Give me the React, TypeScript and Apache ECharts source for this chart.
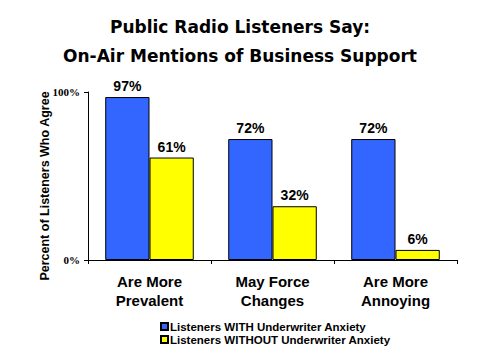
import React, { useEffect, useRef } from "react";
import * as echarts from "echarts";

const categories = ["Are More\nPrevalent", "May Force\nChanges", "Are More\nAnnoying"];
const withAnxiety = [97, 72, 72];
const withoutAnxiety = [61, 32, 6];
const seriesNames = ["Listeners WITH Underwriter Anxiety", "Listeners WITHOUT Underwriter Anxiety"];
const titleLines = ["Public Radio Listeners Say:", "On-Air Mentions of Business Support"];
const yAxisTitle = "Percent of Listeners Who Agree";

const SANS = "'Liberation Sans', Arial, Helvetica, sans-serif";
const WIDE = "'DejaVu Sans', 'Liberation Sans', Arial, sans-serif";
const SERIF = "'Liberation Serif', 'Times New Roman', serif";

export default function App() {
  const ref = useRef<HTMLDivElement>(null);
  useEffect(() => {
    if (!ref.current) return;
    const chart = echarts.init(ref.current, null, { renderer: "svg" });
    const label = {
      show: true,
      position: "top" as const,
      distance: 4,
      formatter: "{c}%",
      fontFamily: SANS,
      fontWeight: "bold" as const,
      fontSize: 14,
      color: "#000",
    };
    chart.setOption({
      animation: false,
      backgroundColor: "#fff",
      title: {
        text: titleLines.join("\n"),
        left: "center",
        top: 7,
        textStyle: {
          fontFamily: WIDE,
          fontWeight: "bold",
          fontSize: 17,
          lineHeight: 29,
          color: "#000",
        },
      },
      graphic: [
        {
          type: "text",
          x: 45,
          y: 186,
          rotation: Math.PI / 2,
          style: {
            text: yAxisTitle,
            fontFamily: SANS,
            fontWeight: "bold",
            fontSize: 12.5,
            fill: "#000",
            textAlign: "center",
            textVerticalAlign: "middle",
          },
        },
      ],
      legend: {
        orient: "vertical",
        left: 160,
        top: 320,
        padding: 0,
        itemWidth: 7,
        itemHeight: 7,
        itemGap: 0,
        icon: "rect",
        data: seriesNames,
        textStyle: {
          fontFamily: SANS,
          fontWeight: "bold",
          fontSize: 11.5,
          lineHeight: 13,
          color: "#000",
          padding: [0, 0, 0, -3],
        },
      },
      grid: { left: 88, right: 23, top: 92, bottom: 100, containLabel: false },
      xAxis: {
        type: "category",
        data: categories,
        axisLine: { lineStyle: { color: "#000", width: 1 } },
        axisTick: { show: true, length: 4, lineStyle: { color: "#000" } },
        axisLabel: {
          margin: 12,
          fontFamily: SANS,
          fontWeight: "bold",
          fontSize: 15,
          lineHeight: 19,
          color: "#000",
        },
      },
      yAxis: {
        type: "value",
        min: 0,
        max: 100,
        interval: 100,
        axisLine: { show: true, lineStyle: { color: "#000", width: 1 } },
        axisTick: { show: true, length: 4, lineStyle: { color: "#000" } },
        splitLine: { show: false },
        axisLabel: {
          formatter: "{value}%",
          margin: 8,
          fontFamily: SERIF,
          fontWeight: "bold",
          fontSize: 11,
          color: "#000",
        },
      },
      series: [
        {
          name: seriesNames[0],
          type: "bar",
          data: withAnxiety,
          barGap: "0%",
          barCategoryGap: "28%",
          itemStyle: { color: "#3366FF", borderColor: "#000", borderWidth: 1 },
          label,
        },
        {
          name: seriesNames[1],
          type: "bar",
          data: withoutAnxiety,
          itemStyle: { color: "#FFFF00", borderColor: "#000", borderWidth: 1 },
          label,
        },
      ],
    });
    return () => chart.dispose();
  }, []);
  return (
    <div
      ref={ref}
      style={{ position: "absolute", left: 0, top: 0, width: 480, height: 360 }}
    />
  );
}
